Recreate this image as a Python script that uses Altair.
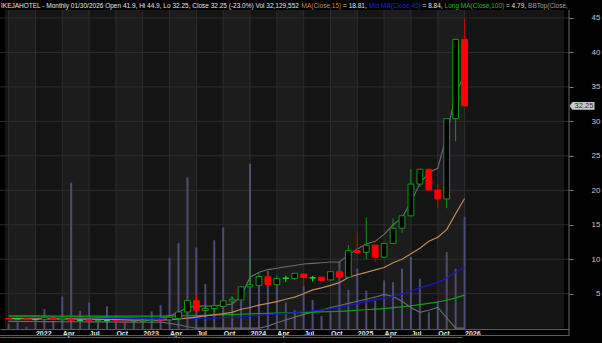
import altair as alt
import pandas as pd

# ---------------- data ----------------
months = ["2021-10", "2021-11", "2021-12",
          "2022-01", "2022-02", "2022-03", "2022-04", "2022-05", "2022-06",
          "2022-07", "2022-08", "2022-09", "2022-10", "2022-11", "2022-12",
          "2023-01", "2023-02", "2023-03", "2023-04", "2023-05", "2023-06",
          "2023-07", "2023-08", "2023-09", "2023-10", "2023-11", "2023-12",
          "2024-01", "2024-02", "2024-03", "2024-04", "2024-05", "2024-06",
          "2024-07", "2024-08", "2024-09", "2024-10", "2024-11", "2024-12",
          "2025-01", "2025-02", "2025-03", "2025-04", "2025-05", "2025-06",
          "2025-07", "2025-08", "2025-09", "2025-10", "2025-11", "2025-12",
          "2026-01"]
opens = [1.40, 1.36, 1.36,
         1.25, 1.29, 1.53, 1.22, 1.33, 1.15, 1.20, 1.05, 1.10, 1.10, 1.00, 0.93,
         1.00, 1.08, 1.25, 1.20, 1.40, 2.35, 4.00, 2.55, 2.85, 3.15, 3.95, 4.10,
         6.00, 6.20, 7.45, 6.30, 7.25, 7.20, 7.85, 7.30, 7.40, 7.00, 8.20, 7.40,
         11.25, 11.00, 12.05, 10.30, 12.30, 14.50, 16.30, 20.90, 23.06, 20.05, 18.75, 30.40,
         41.90]
highs = [1.48, 1.42, 1.38,
         1.32, 1.65, 1.58, 1.50, 1.40, 1.22, 1.22, 1.15, 1.14, 1.12, 1.02, 1.05,
         1.10, 1.25, 1.30, 1.65, 2.40, 4.05, 4.70, 3.30, 3.30, 4.00, 4.55, 6.05,
         10.10, 8.00, 7.90, 7.60, 7.60, 7.95, 7.90, 7.60, 7.45, 8.20, 8.25, 12.05,
         13.85, 16.10, 12.10, 12.30, 15.95, 16.30, 23.06, 23.10, 23.10, 20.90, 30.40, 41.90,
         44.90]
lows = [1.32, 1.32, 1.20,
        1.20, 1.27, 1.20, 1.18, 1.10, 1.10, 1.02, 1.00, 1.04, 0.95, 0.90, 0.90,
        0.98, 1.05, 1.15, 1.18, 1.35, 2.30, 2.55, 2.50, 2.40, 3.10, 3.90, 4.05,
        5.95, 6.10, 5.85, 6.25, 6.70, 7.00, 6.25, 6.80, 6.90, 6.95, 7.35, 7.35,
        10.90, 10.00, 9.60, 10.20, 12.20, 13.85, 16.20, 20.50, 20.00, 17.40, 17.40, 27.10,
        32.25]
closes = [1.36, 1.36, 1.22,
          1.25, 1.58, 1.24, 1.45, 1.15, 1.15, 1.05, 1.12, 1.10, 0.98, 0.93, 1.00,
          1.08, 1.20, 1.18, 1.60, 2.35, 4.00, 2.60, 2.85, 3.25, 3.97, 4.20, 6.00,
          6.30, 7.50, 6.35, 7.20, 7.25, 7.95, 7.35, 7.30, 6.90, 8.20, 7.40, 11.25,
          10.95, 12.05, 10.30, 12.30, 14.50, 16.30, 20.90, 23.06, 20.05, 18.75, 30.40, 41.90,
          32.25]
volume_m = [1.5, 1.9, 0.6,
            2.9, 5.7, 2.2, 9.3, 41.9, 5.2, 7.6, 1.9, 6.5, 3.8, 1.8, 2.4,
            2.9, 5.0, 6.8, 20.3, 24.6, 43.4, 23.3, 12.9, 25.4, 29.1, 9.3, 8.1,
            47.3, 15.0, 16.6, 13.1, 7.6, 5.4, 12.4, 8.3, 3.7, 4.8, 19.2, 11.2,
            17.3, 11.0, 8.1, 13.9, 13.4, 17.3, 20.6, 14.4, 4.8, 8.1, 22.0, 17.3,
            32.13]
ma15 = [1.38, 1.38, 1.37,
        1.36, 1.36, 1.35, 1.35, 1.34, 1.32, 1.30, 1.28, 1.26, 1.23, 1.20, 1.18,
        1.16, 1.15, 1.17, 1.24, 1.33, 1.45, 1.60, 1.78, 1.95, 2.10, 2.30, 2.75,
        3.00, 3.35, 3.60, 3.85, 4.20, 4.50, 5.00, 5.55, 5.85, 6.20, 6.60, 7.35,
        7.75, 8.10, 8.45, 8.80, 9.50, 10.00, 10.80, 11.60, 12.60, 13.20, 14.30, 16.60,
        18.81]
ma45 = [1.52, 1.51, 1.50,
        1.50, 1.49, 1.49, 1.48, 1.47, 1.46, 1.45, 1.44, 1.43, 1.42, 1.41, 1.40,
        1.39, 1.38, 1.38, 1.38, 1.39, 1.40, 1.42, 1.44, 1.46, 1.52, 1.58, 1.65,
        1.75, 1.85, 1.95, 2.05, 2.15, 2.25, 2.38, 2.50, 2.62, 2.80, 3.00, 3.25,
        3.55, 3.85, 4.10, 4.35, 4.60, 4.95, 5.40, 5.85, 6.25, 6.65, 7.30, 8.10,
        8.84]
ma100 = [1.78, 1.78, 1.77,
         1.77, 1.77, 1.76, 1.76, 1.76, 1.76, 1.75, 1.75, 1.75, 1.75, 1.75, 1.75,
         1.75, 1.76, 1.76, 1.77, 1.78, 1.80, 1.83, 1.86, 1.90, 1.93, 1.97, 2.02,
         2.08, 2.12, 2.16, 2.20, 2.23, 2.27, 2.30, 2.33, 2.36, 2.40, 2.45, 2.52,
         2.60, 2.67, 2.75, 2.85, 2.97, 3.10, 3.25, 3.42, 3.60, 3.80, 4.05, 4.40,
         4.79]
bb_top = [1.62, 1.62, 1.62,
          1.60, 1.62, 1.63, 1.63, 1.62, 1.60, 1.58, 1.56, 1.54, 1.52, 1.50, 1.47,
          1.45, 1.42, 1.45, 1.75, 2.30, 3.00, 3.20, 3.20, 3.25, 3.35, 3.50, 4.60,
          7.40, 8.10, 8.50, 8.70, 8.90, 9.10, 9.30, 9.40, 9.50, 9.60, 9.60, 10.60,
          11.50, 12.20, 12.60, 13.60, 15.00, 16.00, 18.30, 21.00, 22.60, 23.20, 28.00, 34.00,
          36.80]
bb_bot = [0.98, 0.98, 0.97,
          0.96, 0.95, 0.95, 0.94, 0.93, 0.93, 0.92, 0.92, 0.91, 0.90, 0.88, 0.87,
          0.86, 0.86, 0.90, 0.70, 0.50, 0.20, 0.00, 0.00, 0.00, 0.00, 0.00, 0.00,
          0.00, 0.00, 0.30, 0.80, 1.20, 1.60, 2.00, 2.30, 2.60, 3.00, 3.30, 3.60,
          3.90, 4.20, 4.50, 4.90, 4.60, 3.90, 3.00, 2.30, 2.60, 3.00, 1.50, 0.00,
          0.00]
price_ticks = [5, 10, 15, 20, 25, 30, 35, 40, 45]

title_texts = [
    "IKEJAHOTEL - Monthly 01/30/2026 Open 41.9, Hi 44.9, Lo 32.25, Close 32.25 (-23.0%) Vol 32,129,552",
    "MA(Close,15)", "= 18.81,", "Mid MA(Close,45)", "= 8.84,",
    "Long MA(Close,100)", "= 4.79,", "BBTop(Close,",
]
title_colors = ["#e6e6e6", "#c8864e", "#e6e6e6", "#2020e0", "#e6e6e6", "#16c016", "#e6e6e6", "#a0a0a0"]
title_ref_x = [1, 301.5, 339.5, 368, 414, 426.5, 473, 526.5]

# ---------------- layout helpers ----------------
FS_TITLE = 6.5
_w = {" ": .278, "-": .333, "/": .278, ".": .278, ",": .278, "(": .333, ")": .333,
      "%": .889, "=": .584, "I": .278, "i": .222, "l": .222, "t": .278, "j": .222,
      "f": .278, "r": .333, "M": .833, "m": .833, "W": .944, "w": .722, "J": .5,
      "s": .5, "y": .5, "k": .5, "c": .5, "v": .5, "x": .5, "z": .5, "L": .556}
def text_w(s, fs):
    tot = 0.0
    for ch in s:
        if ch in _w:
            tot += _w[ch]
        elif ch.isdigit() or ch.islower():
            tot += .556
        else:
            tot += .68
    return tot * fs

title_x = []
prev_end = -10
for t, rx in zip(title_texts, title_ref_x):
    x0 = max(rx, prev_end + 2)
    title_x.append(x0)
    prev_end = x0 + text_w(t, FS_TITLE)

# ---------------- derived table ----------------
def month_index(s):
    y, m = s.split("-")
    return (int(y) - 2022) * 12 + int(m) - 1

df = pd.DataFrame({
    "month": months, "open": opens, "high": highs, "low": lows, "close": closes,
    "vol": volume_m, "ma15": ma15, "ma45": ma45, "ma100": ma100,
    "bbtop": bb_top, "bbbot": bb_bot,
})
df["m"] = df["month"].map(month_index)
df["dir"] = ["up" if c > o else ("down" if c < o else "doji") for o, c in zip(df["open"], df["close"])]

W, H = 569, 319
x_dom = [-31 / 9.1, (W - 31) / 9.1]
xs = alt.Scale(domain=x_dom, nice=False, zero=False)
ys = alt.Scale(domain=[-0.12, 46.16], nice=False, zero=False)
vs = alt.Scale(domain=[0, 91.3], nice=False, zero=False)

label_expr = ("datum.value % 12 == 0 ? '' + (2022 + datum.value / 12) : "
              "(datum.value % 12 == 3 ? 'Apr' : (datum.value % 12 == 6 ? 'Jul' : 'Oct'))")
x_axis = alt.Axis(values=list(range(0, 49, 3)), labelExpr=label_expr, labelAlign="left",
                  labelBaseline="top", labelPadding=0, labelOffset=0, tickSize=0,
                  domainColor="#5a5a5a", labelColor="#e6e6e6", labelFontSize=7,
                  labelFontWeight="bold", labelFont="Liberation Sans", grid=False,
                  title=None, labelFlush=False, labelOverlap=False)
y_axis = alt.Axis(orient="right", values=price_ticks, tickSize=4, tickColor="#808080",
                  labelColor="#c8c8c8", labelFontSize=8, labelFont="Liberation Sans",
                  labelAlign="right", labelPadding=27, domain=False, grid=False, title=None)

X = lambda f: alt.X(f, type="quantitative", scale=xs, axis=x_axis)

# ---------------- background bands & grid ----------------
qstarts = list(range(-3, 49, 3))
band_rows = [{"x0": x_dom[0], "x1": -3, "shade": "#141414"}]
for q in qstarts:
    shade = "#1c1c1c" if (q % 12) in (3, 9) else "#141414"
    band_rows.append({"x0": q, "x1": q + 3 if q < 48 else x_dom[1], "shade": shade})
bands = alt.Chart(pd.DataFrame(band_rows)).mark_rect().encode(
    x=X("x0"), x2="x1", y=alt.value(0), y2=alt.value(H),
    color=alt.Color("shade:N", scale=None))
vgrid = alt.Chart(pd.DataFrame({"q": qstarts})).mark_rule(color="#2e2e2e", strokeWidth=1).encode(
    x=X("q"), y=alt.value(0), y2=alt.value(H))
hgrid = alt.Chart(pd.DataFrame({"p": price_ticks})).mark_rule(color="#2e2e2e", strokeWidth=1).encode(
    y=alt.Y("p:Q", scale=ys, axis=None), x=alt.value(0), x2=alt.value(W))
bg = alt.layer(bands, vgrid, hgrid)

# ---------------- volume ----------------
vol = alt.Chart(df).mark_bar(width=2, color="#4c4c74").encode(
    x=X("m"), y=alt.Y("vol:Q", scale=vs, axis=None))

# ---------------- price layer ----------------
base = alt.Chart(df)
Y = lambda f: alt.Y(f, type="quantitative", scale=ys, axis=y_axis)

def line(col, color, width=1.2):
    return base.mark_line(color=color, strokeWidth=width, clip=True).encode(x=X("m"), y=Y(col))

lines = [line("bbtop", "#6c6c6c", 1.1), line("bbbot", "#6c6c6c", 1.1),
         line("ma100", "#12a012"), line("ma45", "#1818c8"), line("ma15", "#c08a5a")]

dir_dom = ["up", "down", "doji"]
wicks = base.mark_rule(strokeWidth=1).encode(
    x=X("m"), y=Y("low"), y2="high",
    color=alt.Color("dir:N", scale=alt.Scale(domain=dir_dom, range=["#119911", "#d00000", "#22e022"]), legend=None))
bodies = base.mark_bar(width=5.8, strokeWidth=1).encode(
    x=X("m"), y=Y("open"), y2="close",
    fill=alt.Fill("dir:N", scale=alt.Scale(domain=dir_dom, range=["#000000", "#ff0000", "#22e022"]), legend=None),
    stroke=alt.Stroke("dir:N", scale=alt.Scale(domain=dir_dom, range=["#119911", "#ff0000", "#22e022"]), legend=None))

last = df.tail(1)
tag_path = "M -1.17 0 L -0.92 -0.34 L 1 -0.34 L 1 0.34 L -0.92 0.34 Z"
tag = alt.Chart(last).mark_point(shape=tag_path, filled=True, fill="#c8c8c8", opacity=1,
                                 size=529, strokeWidth=0).encode(x=alt.value(583), y=Y("close"))
tag_text = alt.Chart(last).mark_text(fontSize=7.5, color="#2a2a2a", font="Liberation Sans",
                                     align="center", baseline="middle").encode(
    x=alt.value(584), y=Y("close"), text=alt.Text("close:Q", format=".2f"))

one = pd.DataFrame({"a": [0]})
titles = [alt.Chart(one).mark_text(text=t, color=c, align="left", baseline="middle",
                                   fontSize=FS_TITLE, font="Liberation Sans").encode(
    x=alt.value(x), y=alt.value(-4.5)) for t, c, x in zip(title_texts, title_colors, title_x)]

frame = [
    alt.Chart(one).mark_rule(color="#666666").encode(x=alt.value(W), y=alt.value(0), y2=alt.value(326)),
    alt.Chart(one).mark_rule(color="#5a5a5a").encode(x=alt.value(0), x2=alt.value(W), y=alt.value(325.5)),
    alt.Chart(one).mark_rule(color="#707070").encode(x=alt.value(0), x2=alt.value(463), y=alt.value(327.5)),
    alt.Chart(one).mark_rule(color="#d02020", strokeDash=[3, 2]).encode(x=alt.value(0), x2=alt.value(463), y=alt.value(327.5)),
]

price = alt.layer(*lines, wicks, bodies, tag, tag_text, *titles, *frame)

chart = alt.layer(bg, vol, price).resolve_scale(y="independent").properties(
    width=W, height=H, padding={"left": 0, "top": 10, "right": 33, "bottom": 14},
    autosize=alt.AutoSizeParams(type="none"), background="#000000",
).configure_view(stroke=None)

chart.save("out.html", embed_options={"renderer": "svg", "actions": False})
